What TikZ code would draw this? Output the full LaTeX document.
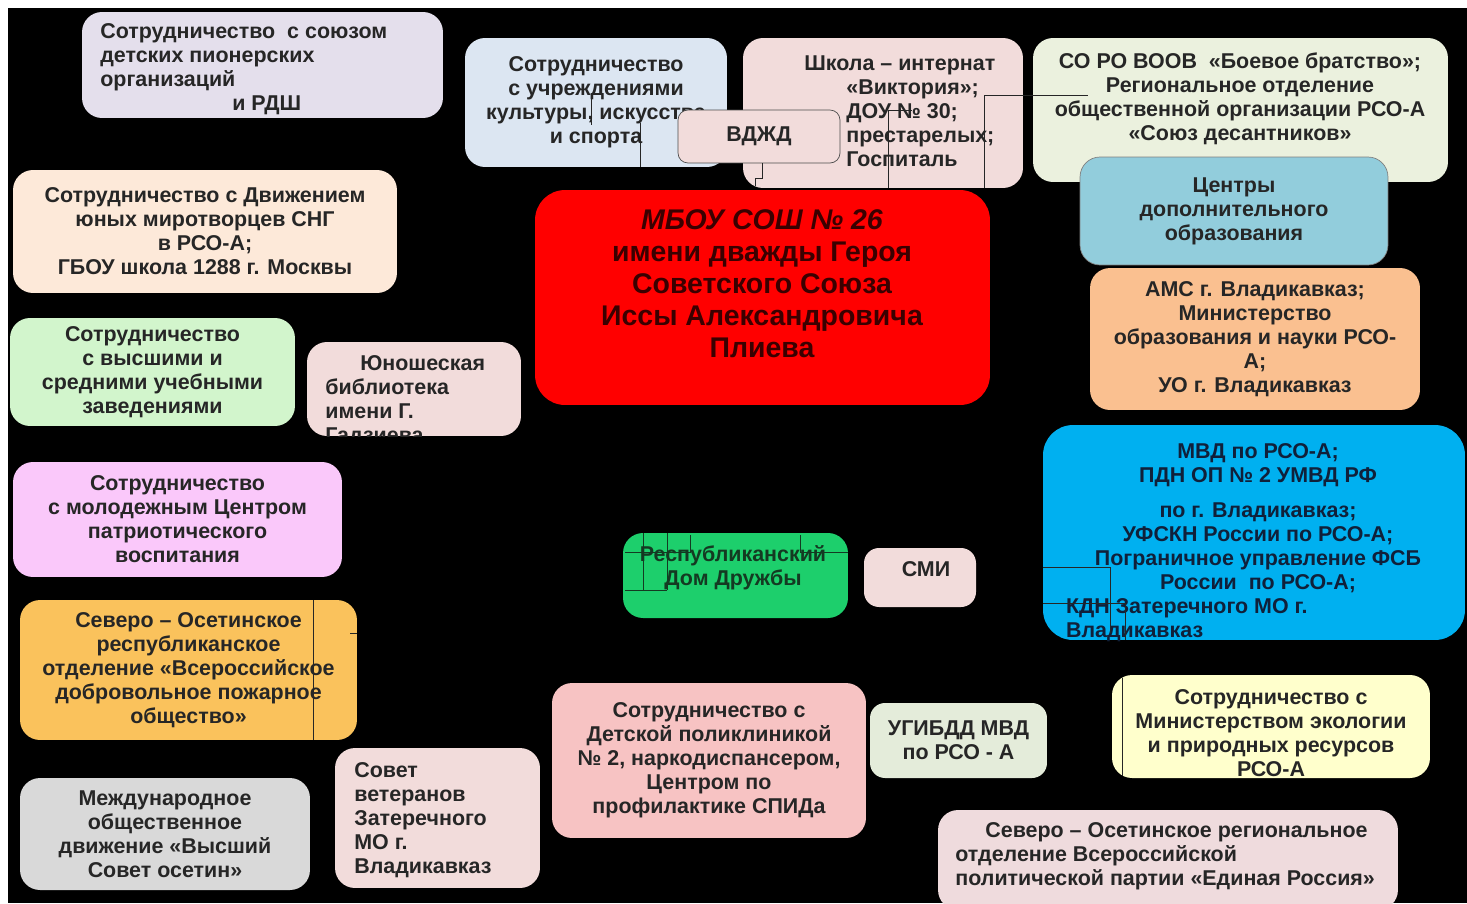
\documentclass[tikz,border=0pt]{standalone}
\usepackage{fontspec}
\setmainfont{Liberation Sans}
\usetikzlibrary{positioning}

\definecolor{txtgray}{HTML}{262626}
\definecolor{cPion}{HTML}{E4DFEC}
\definecolor{cCult}{HTML}{DCE6F2}
\definecolor{cPink}{HTML}{F2DCDB}
\definecolor{cSoro}{HTML}{EBF1DE}
\definecolor{cCentr}{HTML}{92CDDC}
\definecolor{cAms}{HTML}{FAC090}
\definecolor{cMvd}{HTML}{00B0F0}
\definecolor{cMvdTxt}{HTML}{10203A}
\definecolor{cRedTxt}{HTML}{3A0000}
\definecolor{cDvizh}{HTML}{FDE9D9}
\definecolor{cVysh}{HTML}{D2F5CC}
\definecolor{cMolod}{HTML}{FAC8FA}
\definecolor{cFire}{HTML}{FAC25C}
\definecolor{cMezhd}{HTML}{D9D9D9}
\definecolor{cPolik}{HTML}{F7C3C3}
\definecolor{cGibdd}{HTML}{E4ECDA}
\definecolor{cEco}{HTML}{FFFFCC}
\definecolor{cEr}{HTML}{EFDBDD}
\definecolor{cGreen}{HTML}{1DCF6C}
\definecolor{cGreenTxt}{HTML}{143A22}

\tikzset{
    box/.style={ % rounded box of one partner
        rounded corners=0.4cm,
        inner sep=0pt,
        align=center,
        text=txtgray,
        font=\bfseries\fontsize{12.2}{13.66}\selectfont
    },
    lbl/.style={ % text set on its own over a box
        inner sep=0pt,
        text=txtgray,
        font=\bfseries\fontsize{12.2}{13.66}\selectfont
    },
    trace/.style={ % thin leftovers of hidden lines
        draw=black!85,
        line width=0.5pt
    }
}

\begin{document}
\begin{tikzpicture}[x=0.02cm, y=-0.02cm]
    \useasboundingbox (0,0) rectangle (1467,903);
    \fill[white] (0,0) rectangle (1467,903);
    \fill[black] (8,8) rectangle (1467,903);

    % upper row
    \node[box, fill=cPion, minimum width=7.22cm, minimum height=2.12cm] (pion) at (262.5,65) {};
    \node[lbl, align=left, anchor=west] (pion-t) at (100,69) {Сотрудничество\ \ с союзом\\детских пионерских\\организаций\\\hspace*{2.64cm}и РДШ};
    \node[box, fill=cCult, minimum width=5.24cm, minimum height=2.58cm] (cult) at (596,102.5) {Сотрудничество\\с учреждениями\\культуры, искусства\\и спорта};
    \node[box, fill=cPink, minimum width=5.6cm, minimum height=3cm] (school) at (883,113) {};
    \node[lbl, align=left, anchor=west] (school-t) at (846,111) {\hspace*{-0.84cm}Школа – интернат\\«Виктория»;\\ДОУ № 30;\\престарелых;\\Госпиталь};
    \draw[trace] (591,93) -- (591,125);
    \draw[trace] (640,123) -- (640,167);
    \draw[trace] (912,110) -- (888,110) -- (888,188);
    \draw[trace] (1088,95) -- (984,95) -- (984,188);
    \node[box, fill=cPink, draw=black!70, rounded corners=0.2cm, minimum width=3.24cm, minimum height=1.06cm] (vdjd) at (759,136.5) {ВДЖД};
    \draw[trace] (762,163) -- (762,178) -- (755,178) -- (755,186);

    \node[box, fill=cSoro, minimum width=8.3cm, minimum height=2.88cm] (soro) at (1240.5,110) {};
    \node[lbl, align=center] (soro-t) at (1240,99) {СО РО ВООВ\ \ «Боевое братство»;\\Региональное отделение\\общественной организации РСО-А\\«Союз десантников»};
    \draw[trace] (1033,95) -- (1088,95);
    \node[box, fill=cCentr, draw=black!50, minimum width=6.16cm, minimum height=2.16cm] (centr) at (1234,211) {Центры\\дополнительного\\образования};
    \node[box, fill=cAms, minimum width=6.6cm, minimum height=2.84cm] (ams) at (1255,339) {АМС г. Владикавказ;\\Министерство\\образования и науки РСО-\\А;\\УО г. Владикавказ};

    % centre
    \node[box, fill=red, rounded corners=0.6cm, minimum width=9.1cm, minimum height=4.3cm] (mboy) at (762.5,297.5) {};
    \node[lbl, align=center, text=cRedTxt, font=\bfseries\fontsize{16.2}{18.2}\selectfont] (mboy-t) at (762,284) {\textit{МБОУ СОШ № 26}\\имени дважды Героя\\Советского Союза\\Иссы Александровича\\Плиева};

    % left column
    \node[box, fill=cDvizh, minimum width=7.68cm, minimum height=2.46cm] (dvizh) at (205,231.5) {Сотрудничество с Движением\\юных миротворцев СНГ\\в РСО-А;\\ГБОУ школа 1288 г. Москвы};
    \node[box, fill=cVysh, minimum width=5.7cm, minimum height=2.16cm] (vysh) at (152.5,372) {Сотрудничество\\с высшими и\\средними учебными\\заведениями};
    \node[box, fill=cPink, minimum width=4.28cm, minimum height=1.88cm] (lib) at (414,389) {};
    \begin{scope}
        \clip[rounded corners=0.4cm] (lib.south west) rectangle (lib.north east);
        \node[lbl, align=left, anchor=west] (lib-t) at (325,401) {\hspace*{0.7cm}Юношеская\\библиотека\\имени Г.\\Гадзиева};
    \end{scope}
    \node[box, fill=cMolod, minimum width=6.58cm, minimum height=2.3cm] (molod) at (177.5,519.5) {Сотрудничество\\с молодежным Центром\\патриотического\\воспитания};
    \node[box, fill=cFire, minimum width=6.74cm, minimum height=2.8cm] (fire) at (188.5,670) {Северо – Осетинское\\республиканское\\отделение «Всероссийское\\добровольное пожарное\\общество»};
    \draw[trace] (313,600) -- (313,740);
    \draw[trace] (350,633) -- (357,633);
    \node[box, fill=cMezhd, minimum width=5.8cm, minimum height=2.24cm] (mezhd) at (165,834) {Международное\\общественное\\движение «Высший\\Совет осетин»};
    \node[box, fill=cPink, minimum width=4.1cm, minimum height=2.8cm] (sovet) at (437.5,818) {};
    \node[lbl, align=left, anchor=west] (sovet-t) at (354,820) {Совет\\ветеранов\\Затеречного\\МО г.\\Владикавказ};

    % middle
    \node[box, fill=cGreen, text=cGreenTxt, minimum width=4.5cm, minimum height=1.7cm] (dom) at (735.5,575.5) {};
    \node[lbl, align=center, text=cGreenTxt] (dom-t) at (733,568) {Республиканский\\Дом Дружбы};
    \draw[trace, draw=cGreenTxt] (643,533) -- (643,590);
    \draw[trace, draw=cGreenTxt] (667,533) -- (667,590);
    \draw[trace, draw=cGreenTxt] (625,552) -- (690,552) -- (690,535);
    \draw[trace, draw=cGreenTxt] (625,590) -- (667,590);
    \draw[trace, draw=cGreenTxt] (800,535) -- (800,552) -- (848,552);
    \node[box, fill=cPink, rounded corners=0.3cm, minimum width=2.24cm, minimum height=1.18cm] (smi) at (920,577.5) {};
    \node[lbl] (smi-t) at (926,569) {СМИ};
    \node[box, fill=cPolik, minimum width=6.28cm, minimum height=3.1cm] (polik) at (709,760.5) {Сотрудничество с\\Детской поликлиникой\\№ 2, наркодиспансером,\\Центром по\\профилактике СПИДа};
    \node[box, fill=cGibdd, rounded corners=0.3cm, minimum width=3.54cm, minimum height=1.5cm] (gibdd) at (958.5,740.5) {УГИБДД МВД\\по РСО - А};

    % right column
    \node[box, fill=cMvd, rounded corners=0.6cm, minimum width=8.44cm, minimum height=4.3cm] (mvd) at (1254,532.5) {};
    \node[lbl, align=center, text=cMvdTxt] (mvd-t) at (1258,543) {МВД по РСО-А;\\ПДН ОП № 2 УМВД РФ\\[0.22cm]по г. Владикавказ;\\УФСКН России по РСО-А;\\Пограничное управление ФСБ\\России\ \ по РСО-А;\\\makebox[7.68cm][l]{КДН Затеречного МО г.}\\\makebox[7.68cm][l]{Владикавказ}};
    \draw[trace] (1043,567) -- (1110,567) -- (1110,633);
    \draw[trace] (1043,603) -- (1125,603) -- (1125,640);
    \node[box, fill=cEco, minimum width=6.36cm, minimum height=2.06cm] (eco) at (1271,726.5) {};
    \node[lbl, align=center] (eco-t) at (1271,733) {Сотрудничество с\\Министерством экологии\\и природных ресурсов\\РСО-А};
    \draw[trace] (1122,678) -- (1122,776);
    \node[box, fill=cEr, minimum width=9.2cm, minimum height=2cm] (er) at (1168,860) {};
    \node[lbl, align=left, anchor=west] (er-t) at (955,856) {\hspace*{0.6cm}Северо – Осетинское региональное\\отделение Всероссийской\\политической партии «Единая Россия»};
\end{tikzpicture}
\end{document}
